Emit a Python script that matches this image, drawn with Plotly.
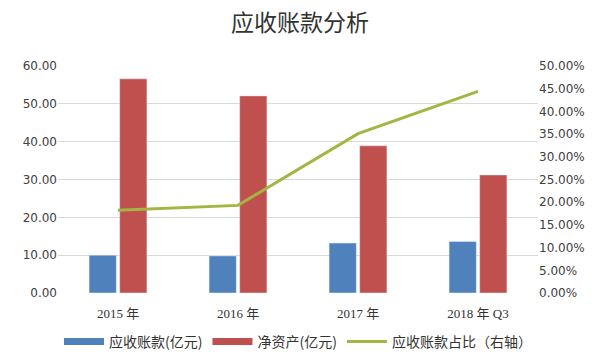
import plotly.graph_objects as go

categories = ["2015 年", "2016 年", "2017 年", "2018 年 Q3"]
receivables = [10.0, 9.8, 13.2, 13.6]
net_assets = [56.6, 52.1, 38.9, 31.2]
ratio = [0.182, 0.193, 0.351, 0.444]

left_ticks = [0, 10, 20, 30, 40, 50, 60]
right_ticks = [i * 0.05 for i in range(11)]

blue = "#4F81BD"
red = "#C0504D"
green = "#A3B542"

fig = go.Figure()
fig.add_trace(go.Bar(x=categories, y=receivables, name="应收账款(亿元)",
                     marker=dict(color=blue), yaxis="y", showlegend=False))
fig.add_trace(go.Bar(x=categories, y=net_assets, name="净资产(亿元)",
                     marker=dict(color=red), yaxis="y", showlegend=False))
fig.add_trace(go.Scatter(x=categories, y=ratio, name="应收账款占比（右轴）",
                         mode="lines", line=dict(color=green, width=3),
                         yaxis="y2", showlegend=False))
# legend entries (long rectangle style symbols)
fig.add_trace(go.Scatter(x=[None], y=[None], mode="lines", name="应收账款(亿元)",
                         line=dict(color=blue, width=7)))
fig.add_trace(go.Scatter(x=[None], y=[None], mode="lines", name="净资产(亿元)",
                         line=dict(color=red, width=7)))
fig.add_trace(go.Scatter(x=[None], y=[None], mode="lines", name="应收账款占比（右轴）",
                         line=dict(color=green, width=3)))

fig.update_layout(
    width=600, height=358,
    margin=dict(l=58, r=62, t=66, b=65),
    paper_bgcolor="white", plot_bgcolor="white",
    title=dict(text="应收账款分析", x=0.5, xanchor="center", y=0.935, yanchor="middle",
               yref="container",
               font=dict(family="Noto Sans CJK SC", size=23, color="#333333")),
    barmode="group", bargap=0.49, bargroupgap=0.11,
    font=dict(family="DejaVu Sans", size=12, color="#404040"),
    xaxis=dict(showgrid=False, showline=False, ticks="", automargin=False,
               ticklabelstandoff=11,
               tickfont=dict(family="Liberation Serif, Noto Sans CJK SC", size=13, color="#333333")),
    yaxis=dict(range=[0, 60], tickvals=left_ticks, automargin=False,
               ticktext=[f"{v:.2f}" for v in left_ticks],
               showgrid=True, gridcolor="#D9D9D9", gridwidth=1,
               zeroline=False, showline=False, ticks="",
               tickfont=dict(family="DejaVu Sans", size=12, color="#404040")),
    yaxis2=dict(range=[0, 0.5], overlaying="y", side="right", automargin=False,
                tickvals=right_ticks,
                ticktext=[f"{v*100:.2f}%" for v in right_ticks],
                showgrid=False, zeroline=False, showline=False, ticks="",
                tickfont=dict(family="DejaVu Sans", size=12, color="#404040")),
    legend=dict(orientation="h", yref="container",
                x=0.5, xanchor="center", y=16 / 358, yanchor="middle",
                font=dict(family="Noto Sans CJK SC", size=14, color="#333333"),
                itemwidth=40),
)

fig.write_html("out.html", config={"displayModeBar": False},
               post_script="document.body.style.margin='0';")
